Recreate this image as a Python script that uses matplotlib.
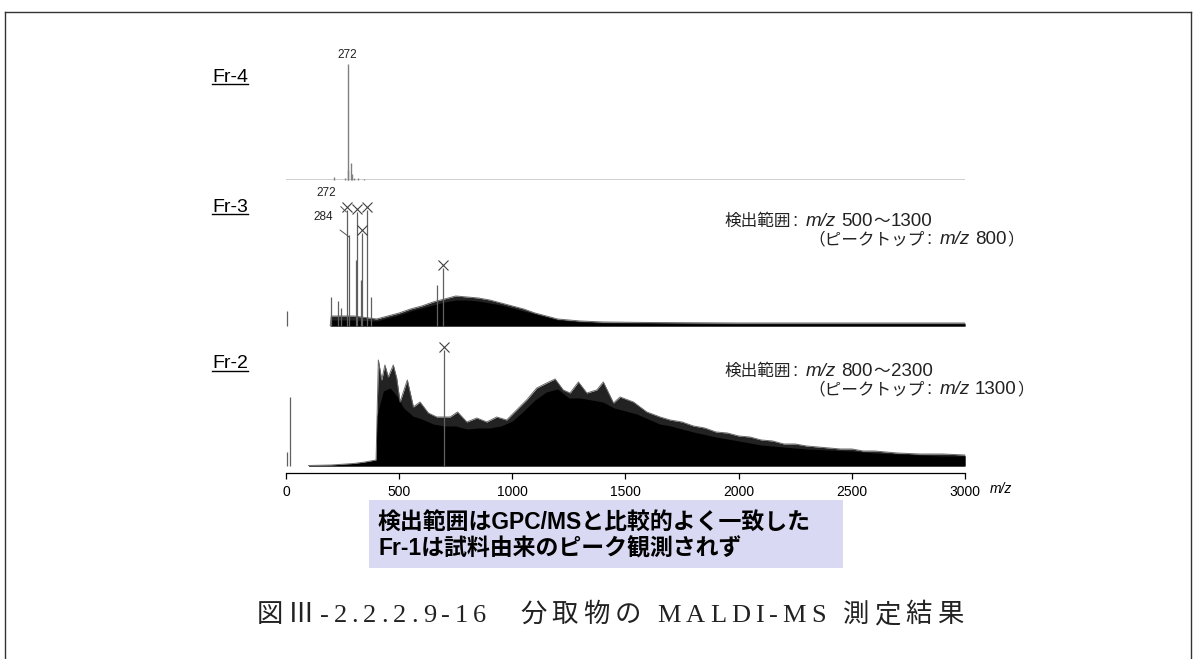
import matplotlib
matplotlib.use('Agg')
import matplotlib.pyplot as plt
from matplotlib.patches import Rectangle
from matplotlib.lines import Line2D

W, H = 1198, 659
LATIN = 'Liberation Sans'
SERIF = 'Liberation Serif'
CJK = 'Noto Sans CJK JP'

# ---------------- data (m/z, relative intensity a.u.) ----------------
mz_ticks = [0, 500, 1000, 1500, 2000, 2500, 3000]

# Fr-4 : isolated peaks
fr4_peak_mz = [214, 262, 272, 276, 286, 290, 300, 320, 345]
fr4_peak_int = [3, 2, 116, 10, 17, 6, 2, 1.5, 1]
fr4_label_mz = [272]

# Fr-3 : envelope of the dense spectrum + isolated peaks
fr3_env_mz = [195, 200, 300, 400, 450, 500, 550, 600, 650, 700, 750, 800, 850,
              900, 950, 1000, 1050, 1100, 1150, 1200, 1300, 1400, 1600, 2000, 3000]
fr3_body = [0, 6, 6, 5, 8, 11, 15, 18, 21, 24, 26, 26, 25,
            23, 21, 18, 15, 12, 9, 6, 4, 3, 2.5, 2, 2]
fr3_tips = [0, 10, 10, 7, 10, 13, 17, 20, 24, 27, 30, 29, 28,
            26, 23, 20, 17, 13, 10, 7, 5, 4, 3.5, 3, 3]
fr3_peak_mz = [3, 199, 228, 243, 268, 280, 309, 314, 330, 334, 357, 374, 666, 695]
fr3_peak_int = [15, 29, 25, 18, 116, 91, 66, 114, 46, 93, 116, 29, 41, 58]
fr3_marked_mz = [268, 314, 357, 334, 695]
fr3_marked_int = [116, 114, 116, 93, 58]
fr3_labels = ['272', '284']
fr3_label_mz = [268, 280]
fr3_label_int = [116, 91]

# Fr-2
fr2_env_mz = [100, 200, 300, 350, 398, 401, 430, 460, 490, 520, 560, 600, 650, 700,
              750, 800, 850, 900, 950, 1000, 1050, 1100, 1150, 1200, 1250, 1300,
              1350, 1400, 1450, 1500, 1550, 1600, 1650, 1700, 1800, 1900, 2000,
              2100, 2200, 2300, 2400, 2500, 2600, 2700, 2800, 2900, 3000]
fr2_body = [0.5, 1, 2.5, 4, 6, 50, 75, 78, 70, 58, 50, 47, 42, 40,
            40, 37, 38, 38, 40, 45, 55, 66, 74, 77, 68, 68,
            66, 64, 58, 55, 52, 47, 42, 40, 34, 29, 25,
            21, 19, 17, 16, 15, 13, 12, 11, 10, 10]
fr2_tip_mz = [100, 200, 300, 350, 398, 408, 423, 437, 452, 474, 489, 504, 536, 563,
              592, 629, 666, 725, 758, 799, 843, 887, 931, 975, 1019, 1063, 1108,
              1152, 1189, 1225, 1255, 1292, 1329, 1373, 1402, 1447, 1476, 1535,
              1594, 1653, 1697, 1750, 1800, 1850, 1900, 1950, 2000, 2050, 2100,
              2150, 2200, 2250, 2300, 2350, 2400, 2450, 2500, 2550, 2600, 2700,
              2800, 2900, 3000]
fr2_tips = [0.5, 1, 2.5, 4, 6, 106, 86, 101, 89, 101, 88, 64, 86, 59,
            64, 53, 49, 49, 54, 44, 48, 44, 49, 46, 56, 66, 78,
            83, 87, 76, 73, 84, 73, 76, 84, 63, 69, 64,
            54, 49, 46, 44, 40, 38, 34, 33, 30, 29, 26,
            25, 22, 22, 20, 19, 18, 17, 17, 15, 15, 13,
            12, 12, 11]
fr2_peak_mz = [3, 18, 698]
fr2_peak_int = [14, 69, 116]
fr2_marked_mz = [698]
fr2_marked_int = [116]

notes_fr3 = ('500', '1300', '800')
notes_fr2 = ('800', '2300', '1300')
box_lines = ['検出範囲はGPC/MSと比較的よく一致した', 'Fr-1は試料由来のピーク観測されず']
caption = '図Ⅲ-2.2.2.9-16　分取物の MALDI-MS 測定結果'

# ---------------- figure ----------------
fig = plt.figure(figsize=(W / 100, H / 100), dpi=100)
fig.patch.set_facecolor('white')
renderer = fig.canvas.get_renderer()


def fx(px):
    return px / W


def fy(py):
    return 1 - py / H


def make_panel(base_px, below=0.0):
    top = 128.0
    ax = fig.add_axes([fx(286), fy(base_px + below), 679 / W, (top + below) / H])
    ax.set_xlim(0, 3000)
    ax.set_ylim(-below, top)
    for s in ax.spines.values():
        s.set_visible(False)
    ax.set_yticks([])
    ax.set_xticks([])
    ax.patch.set_alpha(0)
    return ax


def draw_peaks(ax, mzs, ints, color='#606060', lw=0.9):
    ax.vlines(mzs, 0, ints, colors=color, linewidth=lw, clip_on=False)


def draw_marks(ax, mzs, ints):
    ax.plot(mzs, [v + 3.5 for v in ints], linestyle='none', marker='x',
            markersize=6.5, markeredgewidth=0.8, color='#404040', clip_on=False)


def draw_dense(ax, tip_mz, tips, body_mz, body):
    ax.fill_between(tip_mz, 0, tips, color='#222222', linewidth=0)
    ax.plot(tip_mz, tips, color='#6a6a6a', linewidth=0.7)
    ax.fill_between(body_mz, 0, body, color='black', linewidth=0)


# Fr-4
ax4 = make_panel(180)
ax4.axhline(0, color='#c8c8c8', linewidth=1.2)
draw_peaks(ax4, fr4_peak_mz, fr4_peak_int, color='#808080', lw=1.0)
for m in fr4_label_mz:
    i = fr4_peak_mz.index(m)
    ax4.text(m, fr4_peak_int[i] + 3, str(m), ha='center', va='bottom',
             fontsize=8.5, family=LATIN, color='#222222')

# Fr-3
ax3 = make_panel(326)
draw_dense(ax3, fr3_env_mz, fr3_tips, fr3_env_mz, fr3_body)
draw_peaks(ax3, fr3_peak_mz, fr3_peak_int)
draw_marks(ax3, fr3_marked_mz, fr3_marked_int)
for lab, m, v, dx, dy in zip(fr3_labels, fr3_label_mz, fr3_label_int,
                             [-20, -26], [19, 20]):
    ax3.annotate(lab, xy=(m - 1, v - 2), xytext=(dx, dy), textcoords='offset pixels',
                 ha='center', va='center', fontsize=8.5, family=LATIN, color='#222222',
                 arrowprops=dict(arrowstyle='-', color='#555555', lw=0.7,
                                 shrinkA=5, shrinkB=0))

# Fr-2
ax2 = make_panel(466, below=7)
draw_dense(ax2, fr2_tip_mz, fr2_tips, fr2_env_mz, fr2_body)
draw_peaks(ax2, fr2_peak_mz, fr2_peak_int)
draw_marks(ax2, fr2_marked_mz, fr2_marked_int)
ax2.spines['bottom'].set_visible(True)
ax2.spines['bottom'].set_linewidth(0.9)
ax2.set_xticks(mz_ticks)
ax2.set_xticklabels([str(t) for t in mz_ticks], family=LATIN, fontsize=10)
ax2.tick_params(axis='x', direction='out', length=4.5, width=0.9, pad=4)
fig.text(fx(990), fy(493), 'm/z', style='italic', family=LATIN, fontsize=10,
         va='baseline')

# panel names (underlined)
for name, base in [('Fr-4', 81.5), ('Fr-3', 211.5), ('Fr-2', 368)]:
    t = fig.text(fx(212), fy(base), name, family=LATIN, fontsize=14, va='baseline')
    bb = t.get_window_extent(renderer)
    fig.add_artist(Line2D([fx(212), fx(212) + bb.width / W], [fy(base + 2.5)] * 2,
                          color='black', linewidth=1.0))


def chain(x, y, pieces):
    cx = x
    for item in pieces:
        if isinstance(item, (int, float)):
            cx += item
            continue
        s, kw = item
        t = fig.text(fx(cx), fy(y), s, ha='left', va='baseline', **kw)
        cx += t.get_window_extent(renderer).width
    return cx


cjk_kw = dict(family=[CJK], fontsize=12, color='#222222')
lat_kw = dict(family=[LATIN, CJK], fontsize=13.5, color='#222222')
it_kw = dict(family=[LATIN], fontsize=13.5, style='italic', color='#222222')


def note(y1, vals):
    lo, hi, top = vals
    chain(724, y1, [('検出範囲', cjk_kw), 2, (':', lat_kw), 8, ('m/z', it_kw), 5,
                    (lo, lat_kw), 1, ('〜', cjk_kw), 1, (hi, lat_kw)])
    chain(808, y1 + 18, [('（ピークトップ', cjk_kw), 2, (':', lat_kw), 8, ('m/z', it_kw), 5,
                         (top, lat_kw), 1, ('）', cjk_kw)])


note(226, notes_fr3)
note(376, notes_fr2)

# blue box
fig.add_artist(Rectangle((fx(369), fy(568)), (843 - 369) / W, 68 / H,
                         facecolor='#d9d9f3', edgecolor='none'))
box_kw = dict(family=[LATIN, CJK], fontsize=16.5, weight='bold', color='black')
fig.text(fx(378), fy(529), box_lines[0], ha='left', va='baseline', **box_kw)
fig.text(fx(378), fy(556), box_lines[1], ha='left', va='baseline', **box_kw)

# caption with letter spacing
cap_kw = dict(family=[SERIF, CJK], fontsize=19, color='#222222')
widths = []
for ch in caption:
    t = fig.text(0, 0, ch, **cap_kw)
    if ch == '　':
        widths.append(24)
    elif ch == ' ':
        widths.append(7)
    else:
        widths.append(t.get_window_extent(renderer).width)
    t.remove()
natural = sum(widths)
track = (963 - 257 - natural) / (len(caption) - 1)
cx = 257
for ch, w in zip(caption, widths):
    if ch.strip():
        fig.text(fx(cx), fy(622), ch, ha='left', va='baseline', **cap_kw)
    cx += w + track

# page border
for xs, ys in [([5, 1191], [12, 12]), ([5, 5], [12, 659]), ([1191, 1191], [12, 659])]:
    fig.add_artist(Line2D([fx(v) for v in xs], [fy(v) for v in ys], color='#333333',
                          linewidth=1.0))

fig.savefig('out.png', dpi=100)
